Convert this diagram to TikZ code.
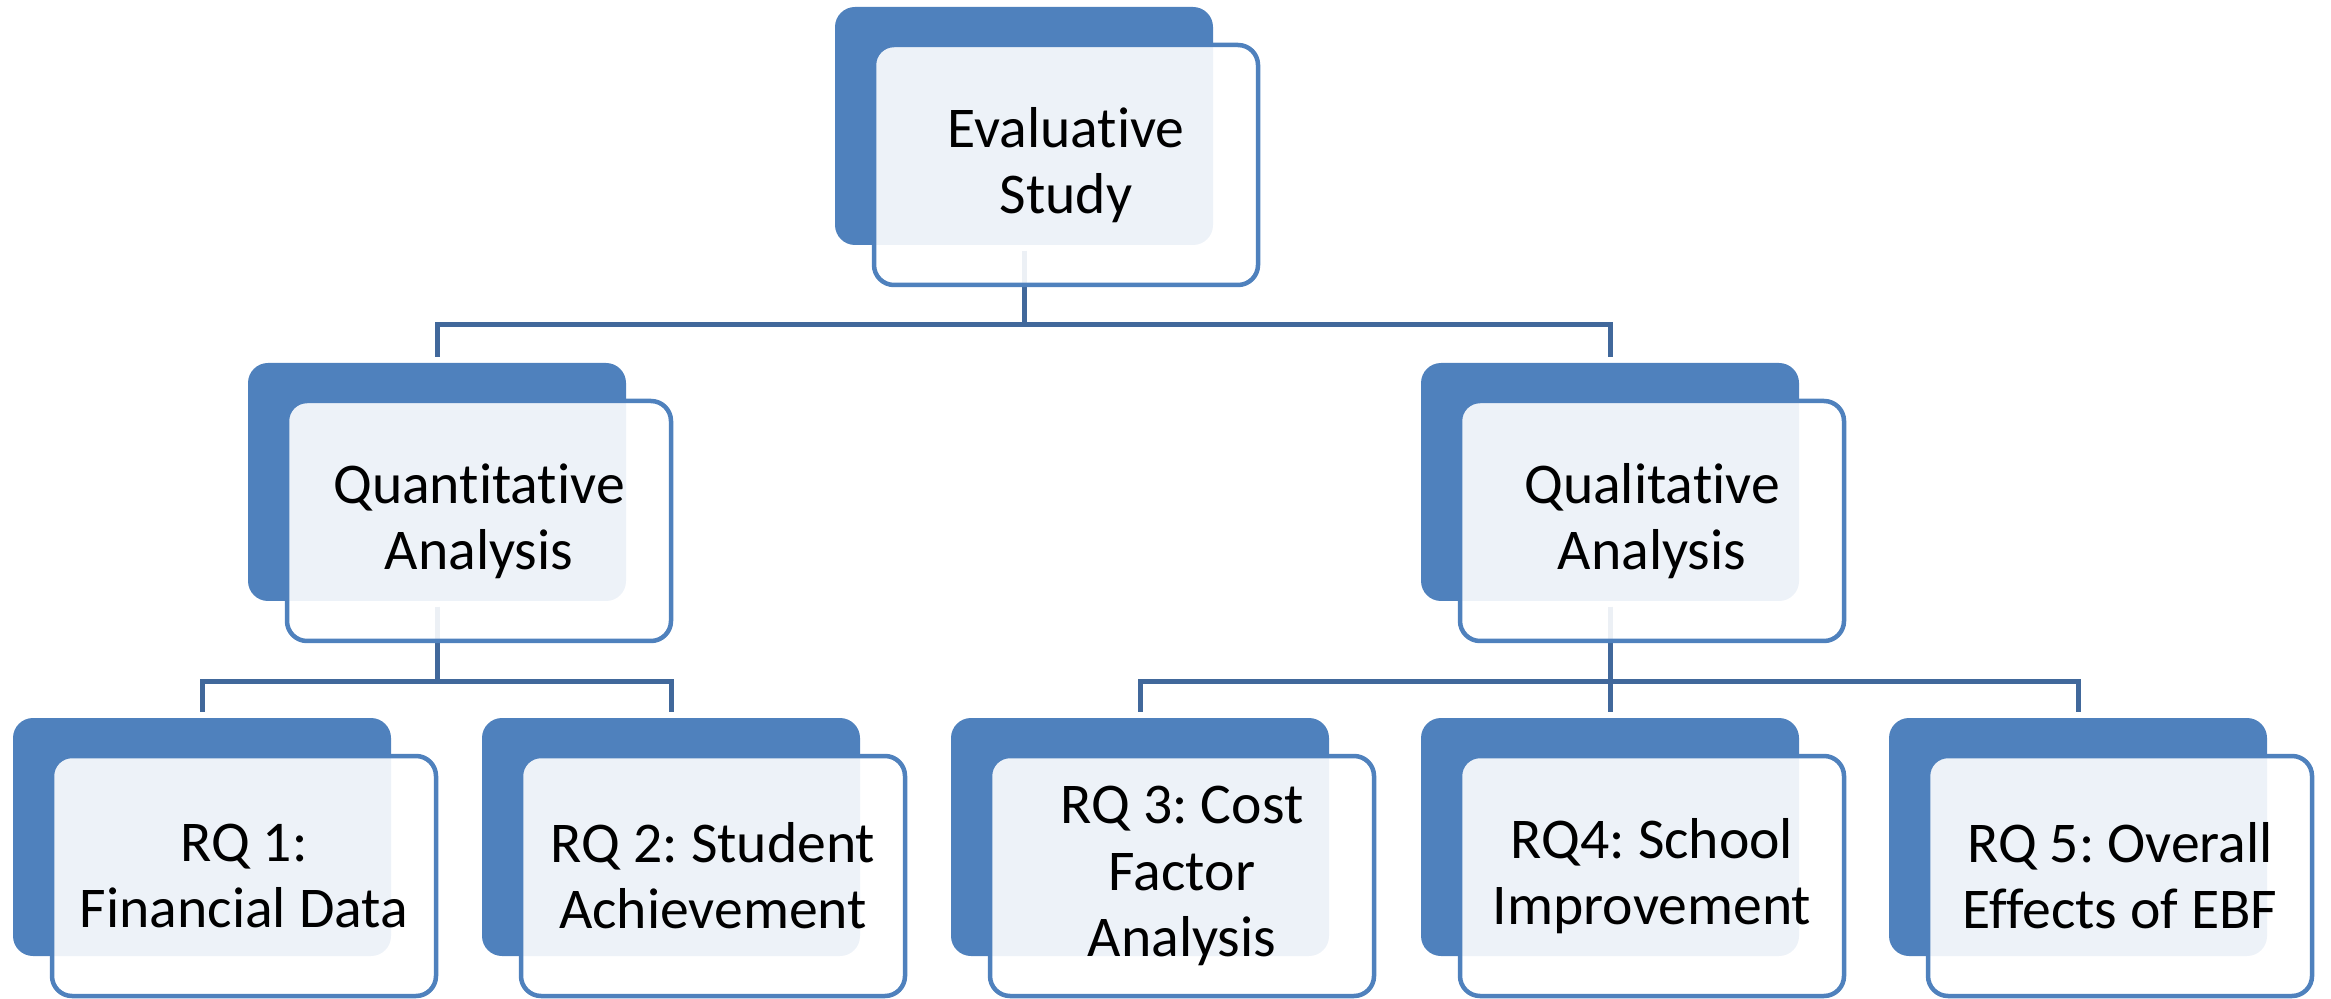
\documentclass[tikz,border=0pt]{standalone}
\usepackage{fontspec}
\setmainfont{Carlito}[Ligatures=NoCommon,RawFeature=-liga]
\usetikzlibrary{calc}
\definecolor{boxblue}{RGB}{79,129,189}
\definecolor{connblue}{RGB}{65,104,155}
\tikzset{
  backbox/.style={rectangle, rounded corners=6pt, fill=boxblue, draw=none,
    inner sep=0pt, outer sep=0pt, anchor=north west,
    minimum width=113.4pt, minimum height=71.4pt},
  frontbox/.style={rectangle, rounded corners=6pt, fill=white, fill opacity=0.9,
    text opacity=1, draw=boxblue, draw opacity=1, line width=1.35pt,
    inner sep=0pt, outer sep=0pt, anchor=north west, align=center,
    minimum width=115.2pt, minimum height=72pt,
    font=\fontsize{17.3pt}{19.9pt}\selectfont\frenchspacing},
  conn/.style={draw=connblue, line width=1.5pt}
}
\begin{document}
\begin{tikzpicture}[x=0.3pt,y=-0.3pt]
\useasboundingbox (0,0) rectangle (2331,999);
% back boxes
\node[backbox] (dtop) at (835,7) {};
\node[backbox] (dq) at (248,363) {};
\node[backbox] (dl) at (1421,363) {};
\node[backbox] (d1) at (13,718) {};
\node[backbox] (d2) at (482,718) {};
\node[backbox] (d3) at (951,718) {};
\node[backbox] (d4) at (1421,718) {};
\node[backbox] (d5) at (1889,718) {};
% connectors
\foreach \p/\c in {dtop/dq, dtop/dl, dq/d1, dq/d2, dl/d3, dl/d4, dl/d5}{
  \draw[conn] ($(\p.south)+(0,6)$) -- ($(\p.south)+(0,80)$) -| ($(\c.north)+(0,-6)$);
}
% front boxes
\node[frontbox] (ftop) at ($(dtop.north west)+(39,38)$) {Evaluative\\Study};
\node[frontbox] (fq) at ($(dq.north west)+(39,38)$) {Quantitative\\Analysis};
\node[frontbox] (fl) at ($(dl.north west)+(39,38)$) {Qualitative\\Analysis};
\node[frontbox] (f1) at ($(d1.north west)+(39,38)$) {RQ 1:\\Financial Data};
\node[frontbox] (f2) at ($(d2.north west)+(39,38)$) {RQ 2: Student\\Achievement};
\node[frontbox] (f3) at ($(d3.north west)+(39,38)$) {RQ 3: Cost\\Factor\\Analysis};
\node[frontbox] (f4) at ($(d4.north west)+(39,38)$) {RQ4: School\\Improvement};
\node[frontbox] (f5) at ($(d5.north west)+(39,38)$) {RQ 5: Overall\\Effects of EBF};
\end{tikzpicture}
\end{document}
